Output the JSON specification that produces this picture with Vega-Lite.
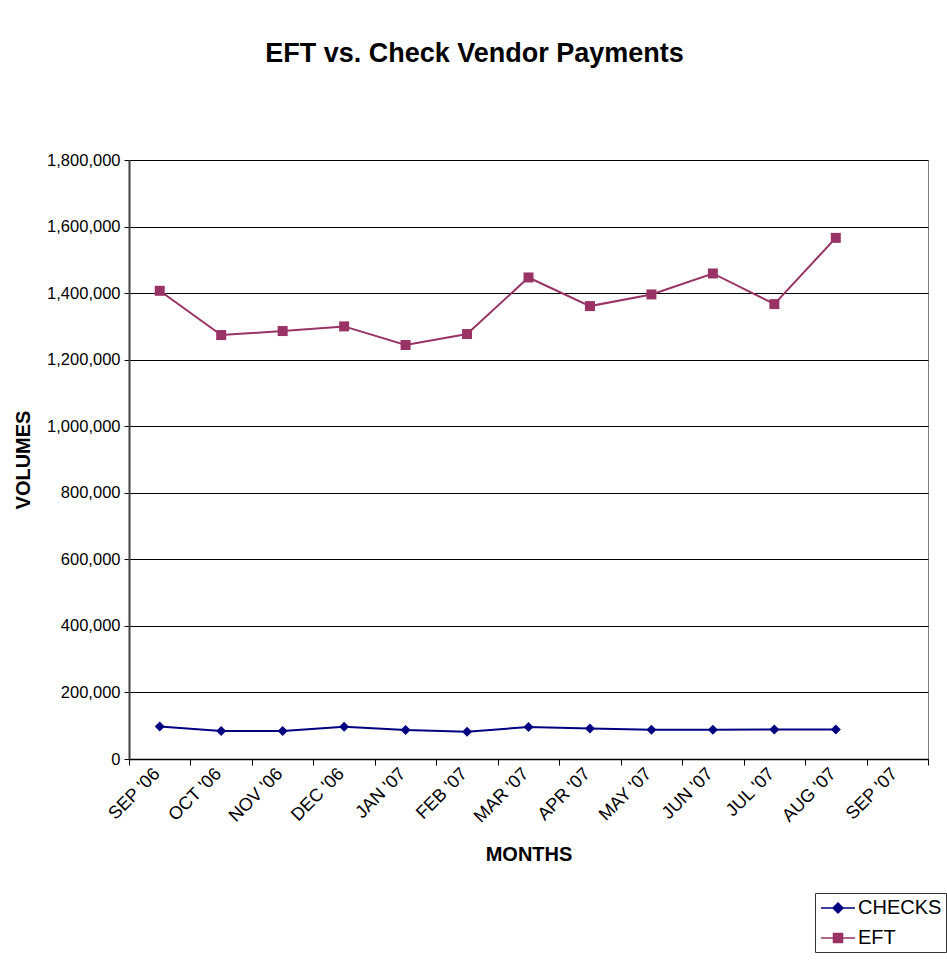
{
  "$schema": "https://vega.github.io/schema/vega-lite/v6.json",
  "width": 799,
  "height": 599,
  "autosize": {"type": "none"},
  "padding": {"left": 129, "top": 160, "right": 19, "bottom": 201},
  "background": "white",
  "config": {
    "view": {"stroke": "#808080", "strokeWidth": 1},
    "font": "Liberation Sans"
  },
  "title": {
    "text": "EFT vs. Check Vendor Payments",
    "font": "Liberation Sans",
    "fontSize": 27,
    "fontWeight": "bold",
    "color": "black",
    "anchor": "middle",
    "dx": -54,
    "offset": 63,
    "baseline": "alphabetic"
  },
  "data": {
    "values": [
      {"month": "SEP '06", "series": "CHECKS", "volume": 98000},
      {"month": "OCT '06", "series": "CHECKS", "volume": 84000},
      {"month": "NOV '06", "series": "CHECKS", "volume": 84000},
      {"month": "DEC '06", "series": "CHECKS", "volume": 97000},
      {"month": "JAN '07", "series": "CHECKS", "volume": 87000},
      {"month": "FEB '07", "series": "CHECKS", "volume": 82000},
      {"month": "MAR '07", "series": "CHECKS", "volume": 96000},
      {"month": "APR '07", "series": "CHECKS", "volume": 92000},
      {"month": "MAY '07", "series": "CHECKS", "volume": 88000},
      {"month": "JUN '07", "series": "CHECKS", "volume": 88000},
      {"month": "JUL '07", "series": "CHECKS", "volume": 89000},
      {"month": "AUG '07", "series": "CHECKS", "volume": 89000},
      {"month": "SEP '06", "series": "EFT", "volume": 1407000},
      {"month": "OCT '06", "series": "EFT", "volume": 1274000},
      {"month": "NOV '06", "series": "EFT", "volume": 1286000},
      {"month": "DEC '06", "series": "EFT", "volume": 1300000},
      {"month": "JAN '07", "series": "EFT", "volume": 1244000},
      {"month": "FEB '07", "series": "EFT", "volume": 1277000},
      {"month": "MAR '07", "series": "EFT", "volume": 1447000},
      {"month": "APR '07", "series": "EFT", "volume": 1361000},
      {"month": "MAY '07", "series": "EFT", "volume": 1396000},
      {"month": "JUN '07", "series": "EFT", "volume": 1459000},
      {"month": "JUL '07", "series": "EFT", "volume": 1367000},
      {"month": "AUG '07", "series": "EFT", "volume": 1566000}
    ]
  },
  "encoding": {
    "x": {
      "field": "month",
      "type": "ordinal",
      "sort": null,
      "scale": {
        "type": "band",
        "domain": ["SEP '06", "OCT '06", "NOV '06", "DEC '06", "JAN '07", "FEB '07", "MAR '07", "APR '07", "MAY '07", "JUN '07", "JUL '07", "AUG '07", "SEP '07"],
        "paddingInner": 0,
        "paddingOuter": 0
      },
      "axis": {
        "title": "MONTHS",
        "titleFont": "Liberation Sans",
        "titleFontSize": 20,
        "titleFontWeight": "bold",
        "titleColor": "black",
        "titlePadding": 19,
        "labelAngle": -45,
        "labelAlign": "right",
        "labelBaseline": "middle",
        "labelFont": "Liberation Sans",
        "labelFontSize": 18,
        "labelColor": "black",
        "labelPadding": 6,
        "labelOffset": -3,
        "tickBand": "extent",
        "tickSize": 6,
        "tickColor": "black",
        "domainColor": "black",
        "domainWidth": 1.5,
        "grid": false
      }
    },
    "y": {
      "field": "volume",
      "type": "quantitative",
      "scale": {"domain": [0, 1800000], "nice": false, "zero": true},
      "axis": {
        "title": "VOLUMES",
        "titleFont": "Liberation Sans",
        "titleFontSize": 20,
        "titleFontWeight": "bold",
        "titleColor": "black",
        "titlePadding": 13,
        "values": [0, 200000, 400000, 600000, 800000, 1000000, 1200000, 1400000, 1600000, 1800000],
        "format": ",d",
        "labelFont": "Liberation Sans",
        "labelFontSize": 16.5,
        "labelColor": "black",
        "labelPadding": 4,
        "tickSize": 5,
        "tickColor": "black",
        "domainColor": "#404040",
        "domainWidth": 2,
        "grid": true,
        "gridColor": "black",
        "gridWidth": 1
      }
    },
    "color": {
      "field": "series",
      "type": "nominal",
      "scale": {"domain": ["CHECKS", "EFT"], "range": ["#000080", "#993366"]},
      "legend": {
        "title": null,
        "orient": "none",
        "legendX": 686,
        "legendY": 733,
        "strokeColor": "#333333",
        "padding": 4,
        "labelFont": "Liberation Sans",
        "labelFontSize": 20,
        "labelColor": "black",
        "symbolSize": 400,
        "symbolOffset": 8,
        "symbolStrokeWidth": 1.5,
        "rowPadding": 9,
        "labelOffset": 9,
        "encode": {
          "symbols": {
            "update": {
              "shape": {"signal": "datum.value === 'CHECKS' ? 'M-1.7,0H1.7M-0.5,0L0,-0.5L0.5,0L0,0.5Z' : 'M-1.7,0H1.7M-0.45,-0.45H0.45V0.45H-0.45Z'"},
              "fill": {"signal": "datum.value === 'CHECKS' ? '#000080' : '#993366'"},
              "stroke": {"signal": "datum.value === 'CHECKS' ? '#000080' : '#993366'"},
              "fillOpacity": {"value": 1},
              "opacity": {"value": 1},
              "strokeWidth": {"value": 1.5}
            }
          }
        }
      }
    }
  },
  "layer": [
    {"mark": {"type": "line", "strokeWidth": 2}},
    {
      "transform": [{"filter": "datum.series === 'CHECKS'"}],
      "mark": {"type": "point", "filled": true, "opacity": 1, "size": 100, "shape": "diamond"}
    },
    {
      "transform": [{"filter": "datum.series === 'EFT'"}],
      "mark": {"type": "point", "filled": true, "opacity": 1, "size": 100, "shape": "square"}
    }
  ]
}
